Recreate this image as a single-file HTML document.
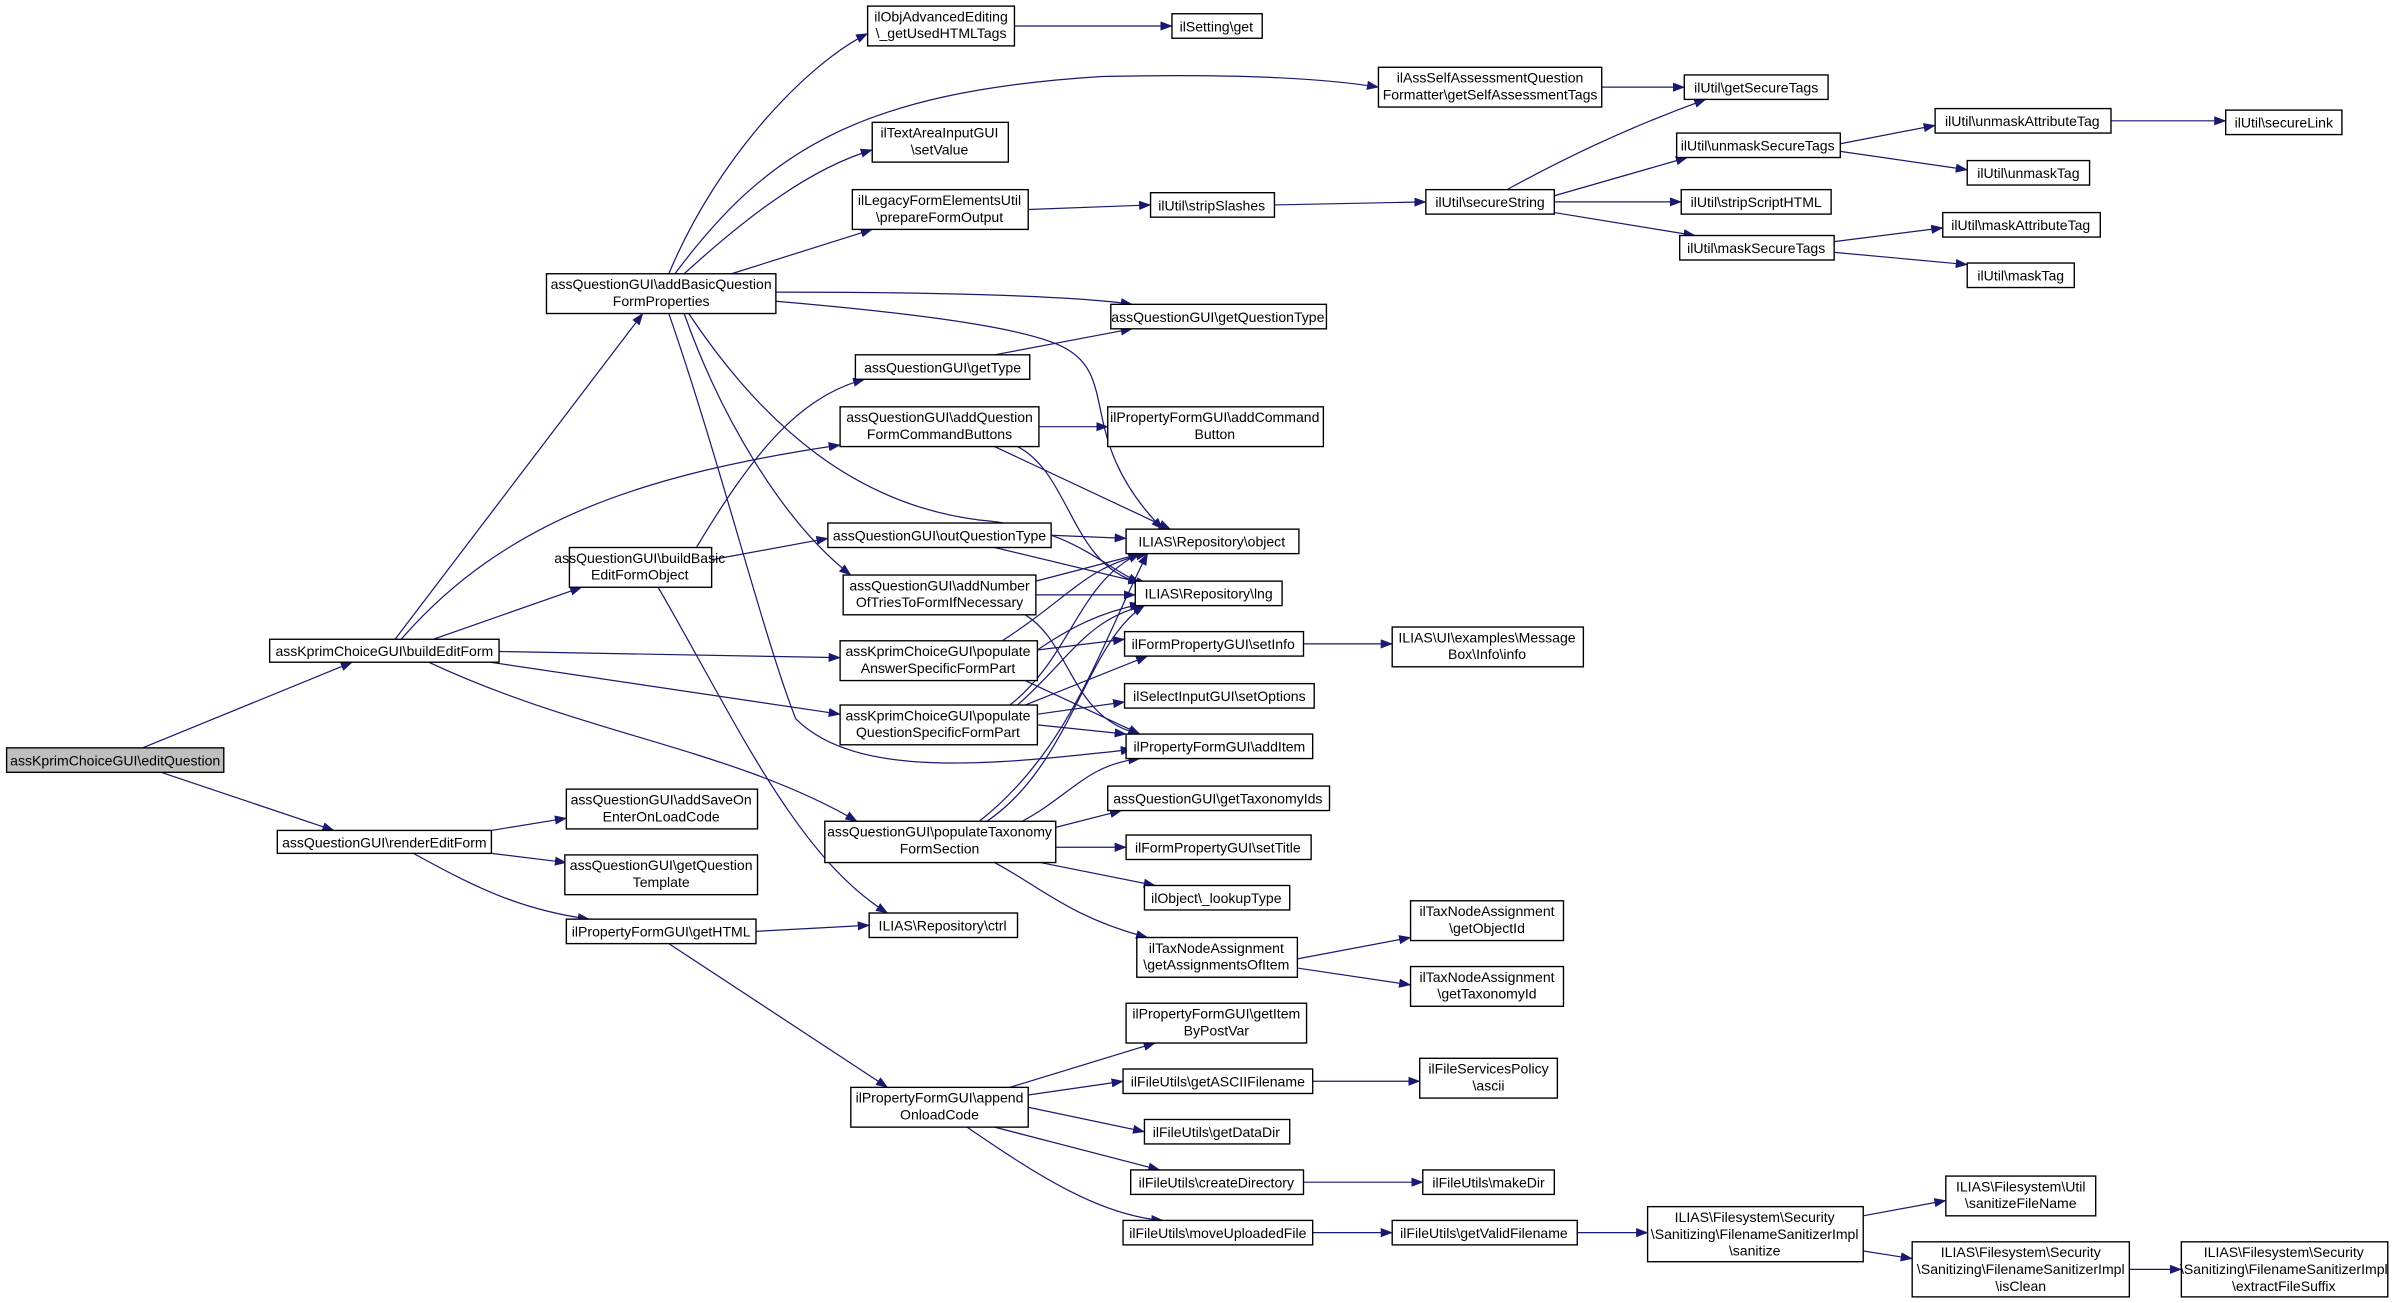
<!DOCTYPE html>
<html><head><meta charset="utf-8"><style>
html,body{margin:0;padding:0;background:#fff;}
svg{display:block;}
text{font-family:"Liberation Sans",Arial,sans-serif;font-size:9.2px;fill:#000;text-anchor:middle;}
.n{fill:#fff;stroke:#000;stroke-width:0.9;}
.e{fill:none;stroke:#191970;stroke-width:0.8;marker-end:url(#a);}
</style></head><body>
<svg width="2399" height="1303" viewBox="0 0 1568 852" xmlns="http://www.w3.org/2000/svg">
<defs><marker id="a" markerWidth="8" markerHeight="6" refX="7.5" refY="3" orient="auto" markerUnits="userSpaceOnUse"><path d="M0,0 L8,3 L0,6 z" fill="#191970"/></marker></defs>
<rect width="1568" height="852" fill="#fff"/>
<g>
<path class="e" d="M93,489 L230,433"/>
<path class="e" d="M105,505 L218,543"/>
<path class="e" d="M258,418 L420,205"/>
<path class="e" d="M283,418 L380,384"/>
<path class="e" d="M262,418 C330,340 420,310 549,291"/>
<path class="e" d="M326,426 L549,430"/>
<path class="e" d="M320,433 L549,467"/>
<path class="e" d="M280,433 C380,480 480,490 560,537"/>
<path class="e" d="M321,543 L370,535"/>
<path class="e" d="M321,558 L370,564"/>
<path class="e" d="M270,558 C310,580 340,595 385,601"/>
<path class="e" d="M494,609 L568,605"/>
<path class="e" d="M437,617 L580,711"/>
<path class="e" d="M437,179 C470,100 530,40 567,22"/>
<path class="e" d="M441,179 C500,100 560,60 720,50 C820,48 870,52 901,57"/>
<path class="e" d="M447,179 C490,140 530,110 570,98"/>
<path class="e" d="M478,179 L570,150"/>
<path class="e" d="M507,191 C600,191 700,193 740,199"/>
<path class="e" d="M507,197 C600,205 680,215 700,230 C730,250 705,290 760,346"/>
<path class="e" d="M447,205 C470,270 510,340 556,376"/>
<path class="e" d="M437,205 C470,300 500,420 520,470 C560,510 650,500 740,490"/>
<path class="e" d="M450,205 C500,280 560,330 640,340 C700,345 720,370 745,381"/>
<path class="e" d="M455,358 C490,300 520,260 565,248"/>
<path class="e" d="M465,366 L541,352"/>
<path class="e" d="M430,384 C480,470 520,560 580,597"/>
<path class="e" d="M679,279 L724,279"/>
<path class="e" d="M650,292 L765,346"/>
<path class="e" d="M665,292 C700,310 700,370 745,381"/>
<path class="e" d="M650,232 L740,215"/>
<path class="e" d="M672,137 L752,134"/>
<path class="e" d="M833,134 L932,132"/>
<path class="e" d="M663,17 L766,17"/>
<path class="e" d="M1047,57 L1101,57"/>
<path class="e" d="M985,124 C1020,105 1060,85 1115,65"/>
<path class="e" d="M1016,128 L1103,103"/>
<path class="e" d="M1016,132 L1099,132"/>
<path class="e" d="M1016,139 L1108,154"/>
<path class="e" d="M1203,94 L1265,82"/>
<path class="e" d="M1203,99 L1286,111"/>
<path class="e" d="M1380,79 L1455,79"/>
<path class="e" d="M1199,158 L1270,149"/>
<path class="e" d="M1199,165 L1286,173"/>
<path class="e" d="M687,350 L736,352"/>
<path class="e" d="M650,358 L750,382"/>
<path class="e" d="M677,380 L746,362"/>
<path class="e" d="M677,389 L742,389"/>
<path class="e" d="M670,402 C700,420 700,470 745,480"/>
<path class="e" d="M655,419 C700,390 710,370 750,362"/>
<path class="e" d="M678,425 C700,410 720,400 746,395"/>
<path class="e" d="M678,425 L735,418"/>
<path class="e" d="M670,445 L745,480"/>
<path class="e" d="M660,461 C700,430 705,380 745,362"/>
<path class="e" d="M665,461 C700,430 710,405 748,396"/>
<path class="e" d="M670,461 L750,429"/>
<path class="e" d="M678,467 L735,459"/>
<path class="e" d="M678,474 L736,480"/>
<path class="e" d="M852,421 L910,421"/>
<path class="e" d="M640,537 C700,490 720,420 750,362"/>
<path class="e" d="M645,537 C700,500 710,420 748,396"/>
<path class="e" d="M668,537 C700,520 710,500 745,496"/>
<path class="e" d="M690,541 L733,530"/>
<path class="e" d="M690,554 L736,554"/>
<path class="e" d="M680,564 L755,579"/>
<path class="e" d="M650,564 C680,580 700,600 750,613"/>
<path class="e" d="M848,627 L922,613"/>
<path class="e" d="M848,633 L922,644"/>
<path class="e" d="M660,711 L755,682"/>
<path class="e" d="M672,716 L734,707"/>
<path class="e" d="M672,724 L748,740"/>
<path class="e" d="M650,737 L758,765"/>
<path class="e" d="M632,737 C680,770 720,795 760,798"/>
<path class="e" d="M858,707 L928,707"/>
<path class="e" d="M852,773 L930,773"/>
<path class="e" d="M858,806 L910,806"/>
<path class="e" d="M1031,806 L1077,806"/>
<path class="e" d="M1218,795 L1272,785"/>
<path class="e" d="M1218,818 L1250,823"/>
<path class="e" d="M1392,830 L1426,830"/>
</g>
<g>
<rect x="4" y="489" width="142" height="16" fill="#bfbfbf" stroke="#000" stroke-width="0.9"/><text x="75" y="500.5">assKprimChoiceGUI\editQuestion</text>
<rect class="n" x="176" y="418" width="150" height="15"/><text x="251" y="429">assKprimChoiceGUI\buildEditForm</text>
<rect class="n" x="181" y="543" width="140" height="15"/><text x="251" y="554">assQuestionGUI\renderEditForm</text>
<rect class="n" x="357" y="179" width="150" height="26"/><text x="432" y="189">assQuestionGUI\addBasicQuestion</text><text x="432" y="200">FormProperties</text>
<rect class="n" x="372" y="358" width="93" height="26"/><text x="418" y="368">assQuestionGUI\buildBasic</text><text x="418" y="379">EditFormObject</text>
<rect class="n" x="370" y="516" width="125" height="26"/><text x="432" y="526">assQuestionGUI\addSaveOn</text><text x="432" y="537">EnterOnLoadCode</text>
<rect class="n" x="369" y="559" width="126" height="26"/><text x="432" y="569">assQuestionGUI\getQuestion</text><text x="432" y="580">Template</text>
<rect class="n" x="370" y="601" width="124" height="16"/><text x="432" y="612.5">ilPropertyFormGUI\getHTML</text>
<rect class="n" x="567" y="4" width="96" height="26"/><text x="615" y="14">ilObjAdvancedEditing</text><text x="615" y="25">\_getUsedHTMLTags</text>
<rect class="n" x="766" y="9" width="59" height="16"/><text x="795" y="20.5">ilSetting\get</text>
<rect class="n" x="901" y="44" width="146" height="26"/><text x="974" y="54">ilAssSelfAssessmentQuestion</text><text x="974" y="65">Formatter\getSelfAssessmentTags</text>
<rect class="n" x="570" y="80" width="89" height="26"/><text x="614" y="90">ilTextAreaInputGUI</text><text x="614" y="101">\setValue</text>
<rect class="n" x="557" y="124" width="115" height="26"/><text x="614" y="134">ilLegacyFormElementsUtil</text><text x="614" y="145">\prepareFormOutput</text>
<rect class="n" x="752" y="126" width="81" height="16"/><text x="792" y="137.5">ilUtil\stripSlashes</text>
<rect class="n" x="932" y="124" width="84" height="16"/><text x="974" y="135.5">ilUtil\secureString</text>
<rect class="n" x="726" y="199" width="141" height="16"/><text x="796" y="210.5">assQuestionGUI\getQuestionType</text>
<rect class="n" x="559" y="232" width="114" height="16"/><text x="616" y="243.5">assQuestionGUI\getType</text>
<rect class="n" x="549" y="266" width="130" height="26"/><text x="614" y="276">assQuestionGUI\addQuestion</text><text x="614" y="287">FormCommandButtons</text>
<rect class="n" x="724" y="266" width="141" height="26"/><text x="794" y="276">ilPropertyFormGUI\addCommand</text><text x="794" y="287">Button</text>
<rect class="n" x="541" y="342" width="146" height="16"/><text x="614" y="353.5">assQuestionGUI\outQuestionType</text>
<rect class="n" x="736" y="346" width="113" height="16"/><text x="792" y="357.5">ILIAS\Repository\object</text>
<rect class="n" x="551" y="376" width="126" height="26"/><text x="614" y="386">assQuestionGUI\addNumber</text><text x="614" y="397">OfTriesToFormIfNecessary</text>
<rect class="n" x="742" y="380" width="96" height="16"/><text x="790" y="391.5">ILIAS\Repository\lng</text>
<rect class="n" x="549" y="419" width="129" height="26"/><text x="613" y="429">assKprimChoiceGUI\populate</text><text x="613" y="440">AnswerSpecificFormPart</text>
<rect class="n" x="735" y="413" width="117" height="16"/><text x="793" y="424.5">ilFormPropertyGUI\setInfo</text>
<rect class="n" x="910" y="410" width="125" height="26"/><text x="972" y="420">ILIAS\UI\examples\Message</text><text x="972" y="431">Box\Info\info</text>
<rect class="n" x="549" y="461" width="129" height="26"/><text x="613" y="471">assKprimChoiceGUI\populate</text><text x="613" y="482">QuestionSpecificFormPart</text>
<rect class="n" x="735" y="447" width="124" height="16"/><text x="797" y="458.5">ilSelectInputGUI\setOptions</text>
<rect class="n" x="736" y="480" width="122" height="16"/><text x="797" y="491.5">ilPropertyFormGUI\addItem</text>
<rect class="n" x="539" y="537" width="151" height="27"/><text x="614" y="547">assQuestionGUI\populateTaxonomy</text><text x="614" y="558">FormSection</text>
<rect class="n" x="724" y="514" width="145" height="16"/><text x="796" y="525.5">assQuestionGUI\getTaxonomyIds</text>
<rect class="n" x="736" y="546" width="121" height="16"/><text x="796" y="557.5">ilFormPropertyGUI\setTitle</text>
<rect class="n" x="748" y="579" width="95" height="16"/><text x="795" y="590.5">ilObject\_lookupType</text>
<rect class="n" x="568" y="597" width="97" height="16"/><text x="616" y="608.5">ILIAS\Repository\ctrl</text>
<rect class="n" x="743" y="613" width="105" height="26"/><text x="795" y="623">ilTaxNodeAssignment</text><text x="795" y="634">\getAssignmentsOfItem</text>
<rect class="n" x="922" y="589" width="100" height="26"/><text x="972" y="599">ilTaxNodeAssignment</text><text x="972" y="610">\getObjectId</text>
<rect class="n" x="922" y="632" width="100" height="26"/><text x="972" y="642">ilTaxNodeAssignment</text><text x="972" y="653">\getTaxonomyId</text>
<rect class="n" x="736" y="656" width="118" height="26"/><text x="795" y="666">ilPropertyFormGUI\getItem</text><text x="795" y="677">ByPostVar</text>
<rect class="n" x="556" y="711" width="116" height="26"/><text x="614" y="721">ilPropertyFormGUI\append</text><text x="614" y="732">OnloadCode</text>
<rect class="n" x="734" y="699" width="124" height="16"/><text x="796" y="710.5">ilFileUtils\getASCIIFilename</text>
<rect class="n" x="928" y="692" width="90" height="26"/><text x="973" y="702">ilFileServicesPolicy</text><text x="973" y="713">\ascii</text>
<rect class="n" x="748" y="732" width="95" height="16"/><text x="795" y="743.5">ilFileUtils\getDataDir</text>
<rect class="n" x="739" y="765" width="113" height="16"/><text x="795" y="776.5">ilFileUtils\createDirectory</text>
<rect class="n" x="930" y="765" width="86" height="16"/><text x="973" y="776.5">ilFileUtils\makeDir</text>
<rect class="n" x="734" y="798" width="124" height="16"/><text x="796" y="809.5">ilFileUtils\moveUploadedFile</text>
<rect class="n" x="910" y="798" width="121" height="16"/><text x="970" y="809.5">ilFileUtils\getValidFilename</text>
<rect class="n" x="1077" y="789" width="141" height="36"/><text x="1147" y="799">ILIAS\Filesystem\Security</text><text x="1147" y="810">\Sanitizing\FilenameSanitizerImpl</text><text x="1147" y="821">\sanitize</text>
<rect class="n" x="1272" y="769" width="98" height="26"/><text x="1321" y="779">ILIAS\Filesystem\Util</text><text x="1321" y="790">\sanitizeFileName</text>
<rect class="n" x="1250" y="812" width="142" height="36"/><text x="1321" y="822">ILIAS\Filesystem\Security</text><text x="1321" y="833">\Sanitizing\FilenameSanitizerImpl</text><text x="1321" y="844">\isClean</text>
<rect class="n" x="1426" y="812" width="135" height="36"/><text x="1493" y="822">ILIAS\Filesystem\Security</text><text x="1493" y="833">\Sanitizing\FilenameSanitizerImpl</text><text x="1493" y="844">\extractFileSuffix</text>
<rect class="n" x="1101" y="49" width="94" height="16"/><text x="1148" y="60.5">ilUtil\getSecureTags</text>
<rect class="n" x="1096" y="87" width="107" height="16"/><text x="1149" y="98.5">ilUtil\unmaskSecureTags</text>
<rect class="n" x="1099" y="124" width="98" height="16"/><text x="1148" y="135.5">ilUtil\stripScriptHTML</text>
<rect class="n" x="1098" y="154" width="101" height="16"/><text x="1148" y="165.5">ilUtil\maskSecureTags</text>
<rect class="n" x="1265" y="71" width="115" height="16"/><text x="1322" y="82.5">ilUtil\unmaskAttributeTag</text>
<rect class="n" x="1286" y="105" width="80" height="16"/><text x="1326" y="116.5">ilUtil\unmaskTag</text>
<rect class="n" x="1455" y="72" width="76" height="16"/><text x="1493" y="83.5">ilUtil\secureLink</text>
<rect class="n" x="1270" y="139" width="103" height="16"/><text x="1321" y="150.5">ilUtil\maskAttributeTag</text>
<rect class="n" x="1286" y="172" width="70" height="16"/><text x="1321" y="183.5">ilUtil\maskTag</text>
</g>
</svg>
</body></html>
